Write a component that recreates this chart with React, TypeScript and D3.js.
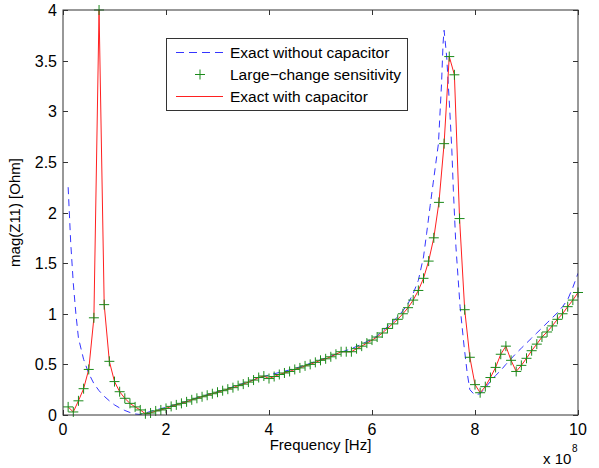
import React, { useEffect, useRef } from "react";
import * as d3 from "d3";

// Frequencies in units of 1e7 Hz for the sampled (marker) data
const freqRed: number[] = Array.from({ length: 100 }, (_, i) => i + 1);
const redValues: number[] = [
  0.08, 0.03, 0.14, 0.26, 0.45, 0.96, 4.0, 1.09, 0.53, 0.33,
  0.23, 0.165, 0.115, 0.08, 0.05, 0.012, 0.02, 0.04, 0.05, 0.065,
  0.085, 0.1, 0.115, 0.13, 0.15, 0.165, 0.18, 0.195, 0.21, 0.225,
  0.24, 0.255, 0.27, 0.29, 0.305, 0.325, 0.345, 0.37, 0.385, 0.36,
  0.38, 0.4, 0.415, 0.43, 0.45, 0.465, 0.485, 0.5, 0.52, 0.54,
  0.555, 0.575, 0.6, 0.625, 0.625, 0.625, 0.655, 0.68, 0.71, 0.74,
  0.77, 0.81, 0.855, 0.9, 0.945, 1.0, 1.06, 1.135, 1.23, 1.35,
  1.52, 1.75, 2.1, 2.68, 3.54, 3.36, 1.94, 1.04, 0.57, 0.3,
  0.22, 0.28, 0.37, 0.47, 0.6, 0.68, 0.54, 0.43, 0.49, 0.56,
  0.635, 0.7, 0.77, 0.82, 0.88, 0.945, 1.0, 1.07, 1.135, 1.21,
];

// Exact without capacitor (finer sampling, 1e7 Hz units)
const freqBlue: number[] = [
  1, 1.5, 2, 2.5, 3, 4, 5, 6, 7, 8, 9, 10, 11, 12, 13, 14, 15, 16, 17, 18,
  20, 22, 24, 26, 28, 30, 32, 34, 36, 38, 40, 42, 44, 46, 48, 50, 52, 54, 56, 58,
  60, 61, 62, 63, 64, 65, 66, 67, 68, 69, 70, 70.6, 71.3, 71.9, 72.9, 73.5, 73.8, 74.0,
  74.5, 75.1, 75.5, 75.8, 76.3, 77.1, 77.9, 78.5, 79.0, 79.9, 81, 82, 83, 84, 85, 86,
  87, 88, 89, 90, 91, 92, 93, 94, 95, 96, 97, 98, 99, 100,
];
const blueValues: number[] = [
  2.25, 1.7, 1.3, 1.0, 0.76, 0.55, 0.41, 0.31, 0.24, 0.185, 0.14, 0.1, 0.07, 0.045, 0.025, 0.01, 0.005, 0.02, 0.035, 0.05,
  0.075, 0.105, 0.135, 0.17, 0.2, 0.23, 0.26, 0.295, 0.33, 0.365, 0.395, 0.42, 0.445, 0.475, 0.51, 0.545, 0.58, 0.62, 0.655, 0.7,
  0.75, 0.78, 0.83, 0.87, 0.92, 0.97, 1.03, 1.1, 1.2, 1.33, 1.56, 1.79, 2.07, 2.3, 2.68, 3.27, 3.67, 3.8,
  3.54, 3.01, 2.62, 2.22, 1.66, 1.07, 0.67, 0.41, 0.25, 0.2, 0.21, 0.27, 0.33, 0.39, 0.44, 0.5,
  0.555, 0.61, 0.66, 0.71, 0.76, 0.81, 0.86, 0.91, 0.96, 1.01, 1.07, 1.14, 1.26, 1.4,
];

const xTicks: number[] = [0, 2, 4, 6, 8, 10];
const yTicks: number[] = [0, 0.5, 1, 1.5, 2, 2.5, 3, 3.5, 4];
const legendLabels: string[] = [
  "Exact without capacitor",
  "Large\u2212change sensitivity",
  "Exact with capacitor",
];

const W = 599;
const H = 468;
const FONT = "'Liberation Sans', Arial, Helvetica, sans-serif";

export default function App() {
  const ref = useRef<SVGSVGElement | null>(null);

  useEffect(() => {
    const svg = d3.select(ref.current);
    svg.selectAll("*").remove();

    const left = 63, right = 578, top = 10, bottom = 415;
    const x = d3.scaleLinear().domain([0, 10]).range([left, right]);
    const y = d3.scaleLinear().domain([0, 4]).range([bottom, top]);

    svg.append("rect").attr("x", 0).attr("y", 0).attr("width", W).attr("height", H).attr("fill", "#fff");

    svg.append("defs").append("clipPath").attr("id", "plotclip")
      .append("rect").attr("x", left).attr("y", top - 1).attr("width", right - left).attr("height", bottom - top + 1);

    const plot = svg.append("g").attr("clip-path", "url(#plotclip)");

    const blueData = freqBlue.map((f, i) => [f / 10, blueValues[i]] as [number, number]);
    const redData = freqRed.map((f, i) => [f / 10, redValues[i]] as [number, number]);

    const line = d3.line<[number, number]>().x(d => x(d[0])).y(d => y(d[1]));

    plot.append("path").datum(blueData).attr("d", line)
      .attr("fill", "none").attr("stroke", "#3535ff").attr("stroke-width", 1)
      .attr("stroke-dasharray", "7,5");

    // markers
    const mk = svg.append("g").attr("stroke", "#1a8a1a").attr("stroke-width", 1);
    redData.forEach(d => {
      const px = x(d[0]), py = y(d[1]);
      mk.append("line").attr("x1", px - 5).attr("x2", px + 5).attr("y1", py).attr("y2", py);
      mk.append("line").attr("x1", px).attr("x2", px).attr("y1", py - 5).attr("y2", py + 5);
    });

    plot.append("path").datum(redData).attr("d", line)
      .attr("fill", "none").attr("stroke", "#ff2020").attr("stroke-width", 1);

    // frame
    const ax = svg.append("g").attr("stroke", "#333").attr("stroke-width", 1);
    ax.append("rect").attr("x", left).attr("y", top).attr("width", right - left).attr("height", bottom - top)
      .attr("fill", "none");
    xTicks.forEach(t => {
      const px = Math.round(x(t)) + 0.5;
      ax.append("line").attr("x1", px).attr("x2", px).attr("y1", bottom).attr("y2", bottom - 5);
      ax.append("line").attr("x1", px).attr("x2", px).attr("y1", top).attr("y2", top + 5);
    });
    yTicks.forEach(t => {
      const py = Math.round(y(t)) + 0.5;
      ax.append("line").attr("x1", left).attr("x2", left + 5).attr("y1", py).attr("y2", py);
      ax.append("line").attr("x1", right).attr("x2", right - 5).attr("y1", py).attr("y2", py);
    });

    const txt = svg.append("g").attr("font-family", FONT).attr("fill", "#000");
    xTicks.forEach(t => {
      txt.append("text").attr("x", x(t)).attr("y", bottom + 20).attr("text-anchor", "middle")
        .attr("font-size", 16).text(String(t));
    });
    yTicks.forEach(t => {
      txt.append("text").attr("x", left - 6).attr("y", y(t) + 6).attr("text-anchor", "end")
        .attr("font-size", 16).text(String(t));
    });

    txt.append("text").attr("x", (left + right) / 2).attr("y", 450).attr("text-anchor", "middle")
      .attr("font-size", 15).text("Frequency [Hz]");
    txt.append("text").attr("transform", `translate(20, ${(top + bottom) / 2}) rotate(-90)`)
      .attr("text-anchor", "middle").attr("font-size", 15).text("mag(Z11) [Ohm]");

    txt.append("text").attr("x", 543).attr("y", 464).attr("font-size", 15).text("x 10");
    txt.append("text").attr("x", 572).attr("y", 452).attr("font-size", 10).text("8");

    // legend
    const lg = svg.append("g");
    lg.append("rect").attr("x", 166.5).attr("y", 38.5).attr("width", 241).attr("height", 72)
      .attr("fill", "#fff").attr("stroke", "#333").attr("stroke-width", 1);
    const rows = [52.5, 74.5, 96.5];
    lg.append("line").attr("x1", 176).attr("x2", 223).attr("y1", rows[0]).attr("y2", rows[0])
      .attr("stroke", "#3535ff").attr("stroke-dasharray", "8,5");
    lg.append("line").attr("x1", 195).attr("x2", 205).attr("y1", rows[1]).attr("y2", rows[1]).attr("stroke", "#1a8a1a");
    lg.append("line").attr("x1", 200).attr("x2", 200).attr("y1", rows[1] - 5).attr("y2", rows[1] + 5).attr("stroke", "#1a8a1a");
    lg.append("line").attr("x1", 176).attr("x2", 223).attr("y1", rows[2]).attr("y2", rows[2])
      .attr("stroke", "#ff2020");
    legendLabels.forEach((l, i) => {
      lg.append("text").attr("x", 230).attr("y", rows[i] + 5.5).attr("font-family", FONT)
        .attr("font-size", 15.5).attr("fill", "#000").text(l);
    });
  }, []);

  return (
    <svg ref={ref} width={W} height={H}
      style={{ position: "absolute", left: 0, top: 0, display: "block" }} />
  );
}
